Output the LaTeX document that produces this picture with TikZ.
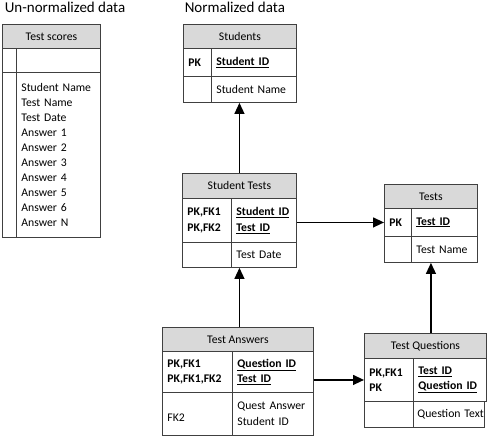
\documentclass[tikz,border=0pt]{standalone}
\usepackage{fontspec}
\setmainfont{Carlito}
\usetikzlibrary{arrows.meta}
\tikzset{hdr/.style={draw=black!75,fill=gray!30,anchor=north west,inner sep=0pt}}
\tikzset{cell/.style={draw=black!75,anchor=north west,inner xsep=5pt,inner ysep=0pt,align=left}}
\tikzset{link/.style={line width=1.3pt,-{Triangle[length=11pt,width=10pt]}}}
\tikzset{title/.style={anchor=base west,font=\fontsize{15}{18}\selectfont}}

\begin{document}
\begin{tikzpicture}
                [x=1pt,y=-1pt,line width=0.9pt,every node/.style={font=\fontsize{11.7}{15.5}\selectfont}]
                \useasboundingbox (0,0) rectangle (499,437);
                % un-normalized
                \node [title] (title1) at (1,12) {Un-normalized data};
                \node [hdr,minimum width=98pt,minimum height=24pt] (scores) at (2,24) {Test scores};
                \node [cell,text width=4pt,minimum height=24pt] (scores-k1) at (2,48) {};
                \node [cell,text width=74pt,minimum height=24pt] (scores-v1) at (16,48) {};
                \node [cell,text width=4pt,minimum height=165pt] (scores-k2) at (2,72) {};
                \node [cell,text width=74pt,minimum height=165pt,font=\fontsize{11.7}{15}\selectfont] (scores-v2) at (16,72)
                    {Student Name\\Test Name\\Test Date\\Answer 1\\Answer 2\\Answer 3\\Answer 4\\Answer 5\\Answer 6\\Answer N};
                
                % normalized
                \node [title] (title2) at (181,12) {Normalized data};
                \node [hdr,minimum width=113pt,minimum height=24pt] (students) at (183,24) {Students};
                \node [cell,text width=18pt,minimum height=28pt] (students-k1) at (183,48) {\textbf{PK}};
                \node [cell,text width=75pt,minimum height=28pt] (students-v1) at (211,48) {\textbf{\underline{Student ID}}};
                \node [cell,text width=18pt,minimum height=26pt] (students-k2) at (183,76) {};
                \node [cell,text width=75pt,minimum height=26pt] (students-v2) at (211,76) {Student Name};
                
                \node [hdr,minimum width=114pt,minimum height=25pt] (sttests) at (182,173) {Student Tests};
                \node [cell,text width=39pt,minimum height=44pt] (sttests-k1) at (182,198) {\textbf{PK,FK1}\\\textbf{PK,FK2}};
                \node [cell,text width=55pt,minimum height=44pt] (sttests-v1) at (231,198) {\textbf{\underline{Student ID}}\\\textbf{\underline{Test ID}}};
                \node [cell,text width=39pt,minimum height=25pt] (sttests-k2) at (182,242) {};
                \node [cell,text width=55pt,minimum height=25pt] (sttests-v2) at (231,242) {Test Date};
                
                \node [hdr,minimum width=93pt,minimum height=24pt] (tests) at (384,184) {Tests};
                \node [cell,text width=17pt,minimum height=28pt] (tests-k1) at (384,208) {\textbf{PK}};
                \node [cell,text width=56pt,minimum height=28pt] (tests-v1) at (411,208) {\textbf{\underline{Test ID}}};
                \node [cell,text width=17pt,minimum height=26pt] (tests-k2) at (384,236) {};
                \node [cell,text width=56pt,minimum height=26pt] (tests-v2) at (411,236) {Test Name};
                
                \node [hdr,minimum width=151pt,minimum height=24pt] (answers) at (162,327) {Test Answers};
                \node [cell,text width=60pt,minimum height=41pt] (answers-k1) at (162,351) {\textbf{PK,FK1}\\\textbf{PK,FK1,FK2}};
                \node [cell,text width=71pt,minimum height=41pt] (answers-v1) at (232,351) {\textbf{\underline{Question ID}}\\\textbf{\underline{Test ID}}};
                \node [cell,text width=60pt,minimum height=43pt] (answers-k2) at (162,392) {\mbox{}\\FK2};
                \node [cell,text width=71pt,minimum height=43pt] (answers-v2) at (232,392) {Quest Answer\\Student ID};
                
                \node [hdr,minimum width=122pt,minimum height=25pt] (questions) at (364,333) {Test Questions};
                \node [cell,text width=39pt,minimum height=43pt] (questions-k1) at (364,358) {\textbf{PK,FK1}\\\textbf{PK}};
                \node [cell,text width=63pt,minimum height=43pt] (questions-v1) at (413,358) {\textbf{\underline{Test ID}}\\\textbf{\underline{Question ID}}};
                \node [cell,text width=39pt,minimum height=26pt] (questions-k2) at (364,401) {};
                \node [cell,text width=63pt,minimum height=26pt,inner xsep=4pt] (questions-v2) at (413,401) {Question~Text};
                
                % links
                \draw [link] (sttests.north) -- (sttests.north |- students-v2.south);
                \draw [link] (answers.north -| sttests.north) -- (sttests.north |- sttests-v2.south);
                \draw [link] (tests-k1.west -| sttests-v1.east) -- (tests-k1.west);
                \draw [link] (questions-k1.west -| answers-v1.east) -- (questions-k1.west);
                \draw [link] (questions.north -| tests.north) -- (tests.north |- tests-v2.south);
            \end{tikzpicture}
\end{document}
